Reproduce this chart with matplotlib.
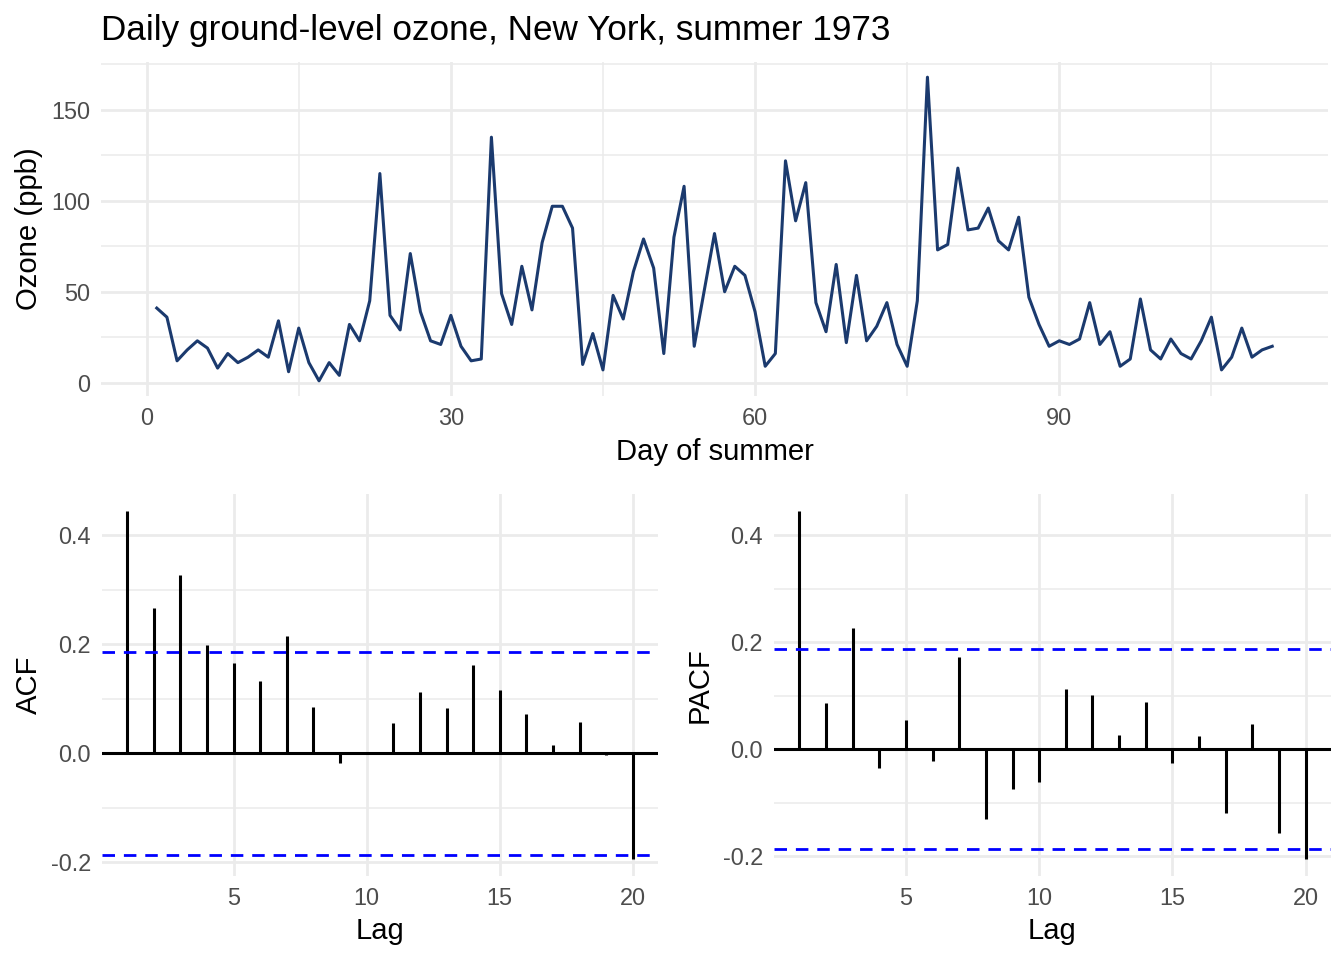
import matplotlib
matplotlib.use("Agg")
from matplotlib import pyplot as plt
from matplotlib.ticker import MultipleLocator, FixedLocator

plt.rcParams['font.family'] = ['Liberation Sans', 'DejaVu Sans']

# daily ozone (ppb), missing days dropped
ozone = [41, 36, 12, 18, 23, 19, 8, 16, 11, 14, 18, 14, 34, 6, 30, 11, 1, 11, 4, 32,
         23, 45, 115, 37, 29, 71, 39, 23, 21, 37, 20, 12, 13, 135, 49, 32, 64, 40, 77, 97,
         97, 85, 10, 27, 7, 48, 35, 61, 79, 63, 16, 80, 108, 20, 51, 82, 50, 64, 59, 39,
         9, 16, 122, 89, 110, 44, 28, 65, 22, 59, 23, 31, 44, 21, 9, 45, 168, 73, 76, 118,
         84, 85, 96, 78, 73, 91, 47, 32, 20, 23, 21, 24, 44, 21, 28, 9, 13, 46, 18, 13,
         24, 16, 13, 23, 36, 7, 14, 30, 14, 18, 20]
days = list(range(1, len(ozone) + 1))

lags = list(range(1, 21))
acf_vals = [0.444, 0.267, 0.327, 0.198, 0.166, 0.133, 0.216, 0.085, -0.017, 0.001,
            0.056, 0.112, 0.083, 0.162, 0.117, 0.072, 0.015, 0.058, -0.003, -0.193]
pacf_vals = [0.445, 0.087, 0.226, -0.036, 0.054, -0.023, 0.172, -0.130, -0.075, -0.061,
             0.113, 0.101, 0.026, 0.088, -0.026, 0.024, -0.119, 0.047, -0.157, -0.205]
ci = 0.1865

W, H = 1344, 960
fig = plt.figure(figsize=(W / 100, H / 100), dpi=100)

grid_col = '#ebebeb'
tick_col = '#4d4d4d'


def style(ax):
    for s in ax.spines.values():
        s.set_visible(False)
    ax.tick_params(which='both', length=0, labelsize=16.9, labelcolor=tick_col, pad=8)
    ax.grid(which='major', color=grid_col, linewidth=2.0)
    ax.grid(which='minor', color=grid_col, linewidth=1.1)
    ax.set_axisbelow(True)


def pad(lo, hi):
    d = (hi - lo) * 0.05
    return lo - d, hi + d


# top panel - time series
ax1 = fig.add_axes([101 / W, 1 - 396 / H, 1227 / W, 334 / H])
style(ax1)
ax1.plot(days, ozone, color='#1b3a6e', linewidth=2.2)
ax1.set_xlim(pad(min(days), max(days)))
ax1.set_ylim(pad(min(ozone), max(ozone)))
ax1.xaxis.set_major_locator(MultipleLocator(30))
ax1.xaxis.set_minor_locator(MultipleLocator(15))
ax1.yaxis.set_major_locator(MultipleLocator(50))
ax1.yaxis.set_minor_locator(MultipleLocator(25))
ax1.set_xlabel("Day of summer", fontsize=21.1)
ax1.set_ylabel("Ozone (ppb)", fontsize=21.1)
ax1.xaxis.set_label_coords(0.5, -0.125)
ax1.yaxis.set_label_coords(-0.047, 0.5)

fig.text(101 / W, 1 - 40 / H, "Daily ground-level ozone, New York, summer 1973",
         fontsize=25.3, ha='left', va='baseline')


def corr_panel(rect, vals, label, label_x):
    ax = fig.add_axes(rect)
    style(ax)
    ax.vlines(lags, 0, vals, color='black', linewidth=2.2)
    ax.axhline(0, color='black', linewidth=2.2)
    ax.axhline(ci, color='blue', linestyle=(0, (4.5, 3.2)), linewidth=2.0)
    ax.axhline(-ci, color='blue', linestyle=(0, (4.5, 3.2)), linewidth=2.0)
    ax.set_xlim(pad(min(lags), max(lags)))
    ax.set_ylim(pad(min(min(vals), -ci), max(max(vals), ci)))
    ax.xaxis.set_major_locator(FixedLocator([5, 10, 15, 20]))
    ax.yaxis.set_major_locator(MultipleLocator(0.2))
    ax.yaxis.set_minor_locator(MultipleLocator(0.1))
    ax.yaxis.set_major_formatter(lambda v, p: f"{v:.1f}")
    ax.set_xlabel("Lag", fontsize=21.1)
    ax.set_ylabel(label, fontsize=21.1)
    ax.xaxis.set_label_coords(0.5, -0.108)
    ax.yaxis.set_label_coords(label_x, 0.5)
    return ax


corr_panel([102 / W, 1 - 876 / H, 556 / W, 382 / H], acf_vals, "ACF", -0.106)
corr_panel([774 / W, 1 - 876 / H, 557 / W, 382 / H], pacf_vals, "PACF", -0.108)

fig.savefig("out.png", dpi=100, facecolor='white')
